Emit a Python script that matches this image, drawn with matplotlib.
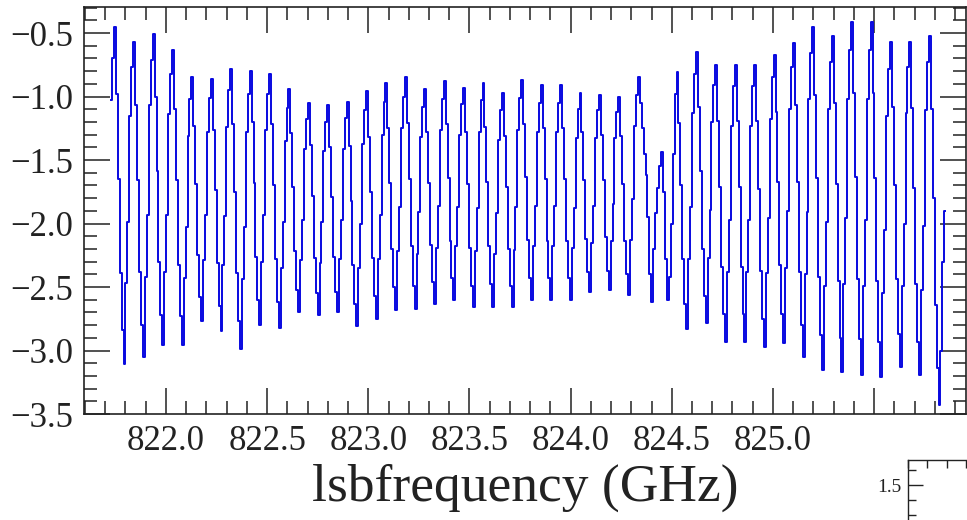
import numpy as np
import matplotlib
matplotlib.use("Agg")
import matplotlib.pyplot as plt
from matplotlib.ticker import MultipleLocator, FixedLocator

plt.rcParams["font.family"] = ["Liberation Serif", "DejaVu Serif"]

# Channel grid of the lower-sideband spectrum (GHz)
freq_start = 821.728
channel_width = 0.00959

# Spectrum values, one row per ripple period (10 channels each)
flux_low = [
    -1.03, -0.70, -0.45, -0.98, -1.65, -2.39, -2.84, -3.11, -2.47, -1.99,
    -1.15, -0.77, -0.57, -1.07, -1.66, -2.38, -2.80, -3.05, -2.42, -1.93,
    -1.07, -0.71, -0.51, -1.00, -1.59, -2.30, -2.72, -2.96, -2.38, -1.93,
    -1.14, -0.82, -0.63, -1.10, -1.66, -2.33, -2.73, -2.96, -2.43, -2.03,
    -1.31, -1.02, -0.85, -1.23, -1.69, -2.25, -2.58, -2.77, -2.29, -1.93,
    -1.28, -1.01, -0.86, -1.26, -1.74, -2.31, -2.65, -2.85, -2.33, -1.94,
    -1.24, -0.95, -0.78, -1.22, -1.75, -2.39, -2.77, -2.99, -2.44, -2.03,
    -1.28, -0.98, -0.80, -1.20, -1.68, -2.26, -2.60, -2.80, -2.30, -1.93,
    -1.26, -0.98, -0.82, -1.22, -1.70, -2.28, -2.62, -2.82, -2.35, -1.99,
    -1.35, -1.09, -0.94, -1.29, -1.71, -2.22, -2.52, -2.70, -2.29, -1.97,
    -1.41, -1.18, -1.05, -1.38, -1.78, -2.27, -2.55, -2.72, -2.31, -1.99,
    -1.43, -1.20, -1.07, -1.40, -1.79, -2.26, -2.54, -2.70, -2.28, -1.97,
    -1.41, -1.17, -1.04, -1.39, -1.82, -2.33, -2.63, -2.81, -2.35, -2.00,
    -1.37, -1.11, -0.96, -1.32, -1.75, -2.27, -2.57, -2.75, -2.28, -1.93,
    -1.30, -1.04, -0.89, -1.25, -1.68, -2.20, -2.50, -2.68, -2.22, -1.87,
]
flux_mid = [
    -1.25, -1.00, -0.85, -1.21, -1.65, -2.18, -2.49, -2.67, -2.24, -1.91,
    -1.32, -1.08, -0.94, -1.28, -1.68, -2.17, -2.46, -2.63, -2.19, -1.86,
    -1.26, -1.02, -0.88, -1.22, -1.64, -2.14, -2.43, -2.60, -2.18, -1.87,
    -1.30, -1.06, -0.93, -1.28, -1.69, -2.19, -2.49, -2.66, -2.22, -1.88,
    -1.28, -1.03, -0.89, -1.24, -1.67, -2.18, -2.48, -2.66, -2.24, -1.92,
    -1.34, -1.11, -0.97, -1.31, -1.71, -2.20, -2.49, -2.66, -2.21, -1.87,
    -1.26, -1.01, -0.87, -1.22, -1.63, -2.13, -2.43, -2.60, -2.18, -1.86,
    -1.28, -1.05, -0.91, -1.25, -1.65, -2.14, -2.43, -2.60, -2.18, -1.86,
    -1.28, -1.05, -0.91, -1.25, -1.65, -2.14, -2.43, -2.60, -2.19, -1.88,
    -1.33, -1.10, -0.97, -1.28, -1.66, -2.12, -2.38, -2.54, -2.15, -1.86,
    -1.33, -1.11, -0.99, -1.30, -1.66, -2.11, -2.37, -2.52, -2.14, -1.85,
    -1.33, -1.12, -1.00, -1.31, -1.69, -2.14, -2.40, -2.56, -2.13, -1.81,
    -1.23, -0.99, -0.85, -1.05, -1.25, -1.45, -1.62, -1.95, -2.40, -2.62,
    -2.20, -1.92, -1.72, -1.55, -1.44, -1.75, -2.28, -2.60, -2.42, -2.00,
]
flux_high = [
    -1.45, -0.98, -0.81, -1.21, -1.70, -2.28, -2.63, -2.83, -2.28, -1.87,
    -1.13, -0.82, -0.65, -1.08, -1.59, -2.20, -2.57, -2.78, -2.27, -1.89,
    -1.20, -0.91, -0.75, -1.19, -1.71, -2.34, -2.71, -2.93, -2.38, -1.97,
    -1.23, -0.92, -0.75, -1.19, -1.71, -2.34, -2.71, -2.93, -2.38, -1.97,
    -1.23, -0.92, -0.75, -1.19, -1.73, -2.37, -2.75, -2.97, -2.39, -1.96,
    -1.18, -0.85, -0.67, -1.12, -1.67, -2.33, -2.71, -2.94, -2.35, -1.90,
    -1.10, -0.77, -0.58, -1.07, -1.67, -2.38, -2.80, -3.05, -2.40, -1.91,
    -1.02, -0.66, -0.45, -0.99, -1.64, -2.42, -2.88, -3.15, -2.49, -1.99,
    -1.10, -0.73, -0.52, -1.05, -1.69, -2.45, -2.90, -3.17, -2.48, -1.96,
    -1.02, -0.63, -0.41, -0.97, -1.63, -2.44, -2.91, -3.19, -2.49, -1.97,
    -1.02, -0.63, -0.41, -0.97, -1.64, -2.45, -2.93, -3.21, -2.55, -2.05,
    -1.15, -0.78, -0.57, -1.08, -1.70, -2.44, -2.87, -3.13, -2.49, -2.00,
    -1.13, -0.77, -0.57, -1.09, -1.72, -2.48, -2.93, -3.19, -2.52, -2.02,
    -1.11, -0.73, -0.52, -1.10, -1.80, -2.64, -3.14, -3.43, -3.00, -2.30,
    -1.90,
]

x_major_labels = ["822.0", "822.5", "823.0", "823.5", "824.0", "824.5", "825.0"]
x_label_pos = [822.0, 822.5, 823.0, 823.5, 824.0, 824.5, 825.0]

flux = np.array(flux_low + flux_mid + flux_high)
freq = freq_start + channel_width * np.arange(flux.size)

W, H = 967, 520
fig = plt.figure(figsize=(W / 100, H / 100), dpi=100)
ax = fig.add_axes([84 / W, 1 - 414 / H, (966 - 84) / W, (414 - 7) / H])

ax.plot(freq, flux, drawstyle="steps-mid", color="#0808e0", lw=1.4)

ax.set_xlim(821.595, 825.954)
ax.set_ylim(-3.5, -0.295)

ax.xaxis.set_major_locator(MultipleLocator(0.5))
ax.xaxis.set_minor_locator(MultipleLocator(0.1))
ax.yaxis.set_major_locator(MultipleLocator(0.5))
ax.yaxis.set_minor_locator(MultipleLocator(0.1))

# Labels only on the listed frequencies
def xfmt(v, pos):
    for p, s in zip(x_label_pos, x_major_labels):
        if abs(v - p) < 1e-6:
            return s
    return ""

ax.xaxis.set_major_formatter(plt.FuncFormatter(xfmt))
ax.yaxis.set_major_formatter(plt.FuncFormatter(lambda v, p: f"{v:.1f}".replace("-", "\u2212")))

ax.tick_params(which="both", direction="in", top=True, right=True,
               colors="#222222", width=1.1, labelsize=25)
ax.tick_params(which="major", length=18.5)
ax.tick_params(which="minor", length=9.5)
ax.tick_params(axis="x", pad=8)
ax.tick_params(axis="y", pad=8)
for s in ax.spines.values():
    s.set_linewidth(1.2)
    s.set_color("#222222")

ax.set_xlabel("lsbfrequency (GHz)", fontsize=38.5, color="#222222", labelpad=4)

# Neighbouring panel peeking in at the lower right
ax2 = fig.add_axes([908 / W, 1 - 530 / H, 200 / W, 70 / H])
ax2.set_xlim(0, 10.26)
ax2.set_ylim(1.2, 1.667)
ax2.xaxis.set_major_locator(FixedLocator([]))
ax2.xaxis.set_minor_locator(MultipleLocator(1))
ax2.yaxis.set_major_locator(MultipleLocator(0.5))
ax2.yaxis.set_minor_locator(MultipleLocator(0.1))
ax2.tick_params(which="both", direction="in", top=True, right=False, bottom=False,
                colors="#222222", width=1.0, labelsize=14, labelbottom=False)
ax2.tick_params(which="major", length=11)
ax2.tick_params(which="minor", length=6)
ax2.tick_params(axis="y", pad=5)
for s in ax2.spines.values():
    s.set_linewidth(1.0)
    s.set_color("#222222")

fig.savefig("out.png", dpi=100)
